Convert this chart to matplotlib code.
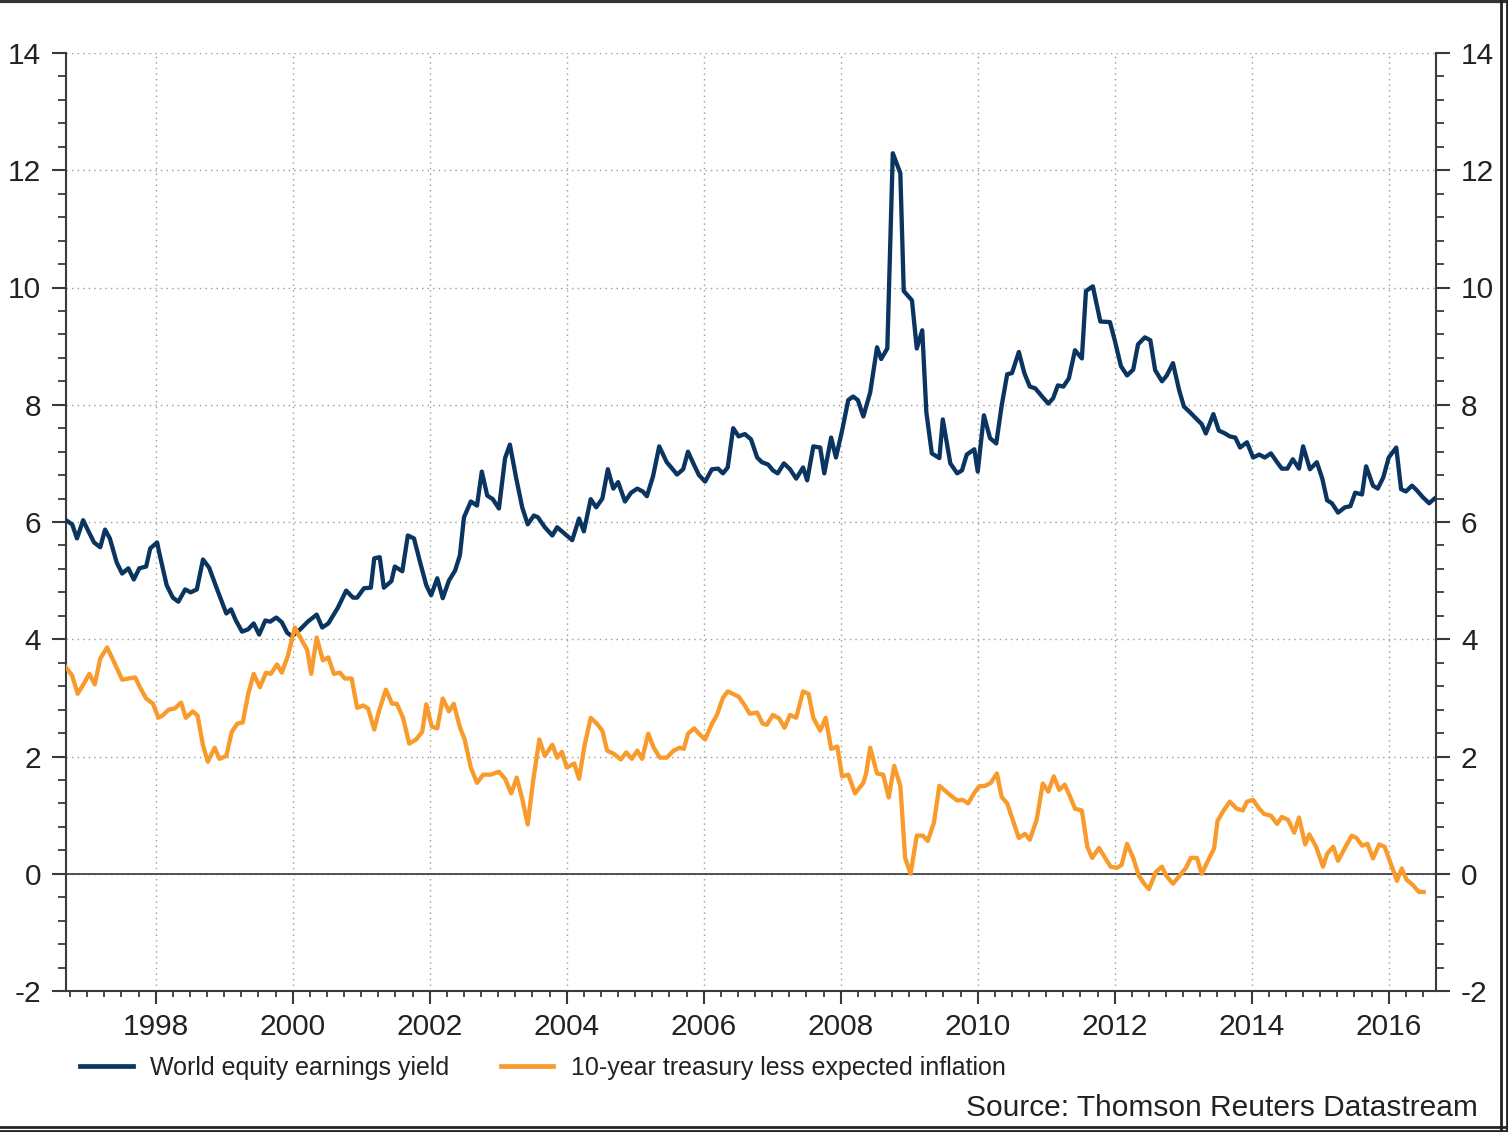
import matplotlib
matplotlib.use("Agg")
from matplotlib import pyplot as plt
from matplotlib.ticker import MultipleLocator
from matplotlib.lines import Line2D

plt.rcParams['font.family'] = ['Liberation Sans', 'DejaVu Sans']
plt.rcParams['axes.unicode_minus'] = False

# World equity earnings yield (decimal year, %)
eq_year = [1996.69, 1996.78, 1996.85, 1996.94, 1997.01, 1997.10, 1997.19, 1997.26, 1997.33, 1997.43,
           1997.51, 1997.60, 1997.68, 1997.76, 1997.86, 1997.92, 1998.02, 1998.06, 1998.16, 1998.25,
           1998.33, 1998.43, 1998.51, 1998.60, 1998.69, 1998.78, 1998.89, 1999.03, 1999.10, 1999.17,
           1999.26, 1999.35, 1999.43, 1999.51, 1999.60, 1999.67, 1999.76, 1999.84, 1999.92, 1999.99,
           2000.11, 2000.22, 2000.35, 2000.43, 2000.52, 2000.66, 2000.78, 2000.88, 2000.94, 2001.04,
           2001.14, 2001.19, 2001.27, 2001.33, 2001.44, 2001.49, 2001.60, 2001.68, 2001.77, 2001.86,
           2001.95, 2002.02, 2002.11, 2002.19, 2002.28, 2002.37, 2002.44, 2002.50, 2002.60, 2002.69,
           2002.76, 2002.84, 2002.92, 2003.01, 2003.10, 2003.17, 2003.26, 2003.35, 2003.43, 2003.52,
           2003.58, 2003.68, 2003.79, 2003.86, 2003.95, 2004.08, 2004.18, 2004.25, 2004.35, 2004.43,
           2004.52, 2004.60, 2004.68, 2004.75, 2004.85, 2004.94, 2005.03, 2005.11, 2005.17, 2005.26,
           2005.35, 2005.46, 2005.54, 2005.61, 2005.70, 2005.77, 2005.86, 2005.93, 2006.02, 2006.12,
           2006.21, 2006.28, 2006.35, 2006.43, 2006.51, 2006.60, 2006.69, 2006.78, 2006.85, 2006.94,
           2007.01, 2007.08, 2007.17, 2007.26, 2007.35, 2007.45, 2007.51, 2007.60, 2007.70, 2007.76,
           2007.86, 2007.93, 2008.02, 2008.11, 2008.18, 2008.25, 2008.33, 2008.43, 2008.53, 2008.59,
           2008.68, 2008.76, 2008.87, 2008.92, 2009.04, 2009.11, 2009.19, 2009.25, 2009.33, 2009.44,
           2009.49, 2009.60, 2009.70, 2009.77, 2009.84, 2009.95, 2010.00, 2010.09, 2010.18, 2010.27,
           2010.35, 2010.43, 2010.50, 2010.60, 2010.68, 2010.76, 2010.84, 2010.94, 2011.03, 2011.10,
           2011.17, 2011.25, 2011.33, 2011.42, 2011.52, 2011.58, 2011.68, 2011.79, 2011.93, 2012.00,
           2012.09, 2012.18, 2012.27, 2012.34, 2012.44, 2012.52, 2012.59, 2012.69, 2012.76, 2012.85,
           2012.94, 2013.01, 2013.10, 2013.20, 2013.27, 2013.33, 2013.44, 2013.52, 2013.61, 2013.68,
           2013.76, 2013.83, 2013.93, 2014.02, 2014.11, 2014.19, 2014.28, 2014.37, 2014.44, 2014.52,
           2014.60, 2014.69, 2014.75, 2014.85, 2014.95, 2015.03, 2015.10, 2015.17, 2015.26, 2015.36,
           2015.44, 2015.51, 2015.61, 2015.67, 2015.77, 2015.84, 2015.92, 2016.00, 2016.11, 2016.18,
           2016.25, 2016.34, 2016.41, 2016.50, 2016.59, 2016.67]
eq_val = [6.03, 5.96, 5.72, 6.03, 5.86, 5.65, 5.57, 5.87, 5.72, 5.31,
          5.12, 5.21, 5.02, 5.21, 5.24, 5.55, 5.65, 5.43, 4.92, 4.71,
          4.64, 4.85, 4.80, 4.85, 5.36, 5.22, 4.87, 4.44, 4.51, 4.32,
          4.13, 4.17, 4.27, 4.08, 4.32, 4.30, 4.37, 4.29, 4.11, 4.05,
          4.17, 4.30, 4.42, 4.20, 4.27, 4.54, 4.83, 4.71, 4.71, 4.87,
          4.88, 5.38, 5.40, 4.88, 4.99, 5.24, 5.16, 5.77, 5.72, 5.31,
          4.92, 4.75, 5.04, 4.70, 5.00, 5.17, 5.43, 6.08, 6.35, 6.28,
          6.86, 6.45, 6.39, 6.23, 7.09, 7.32, 6.76, 6.25, 5.96, 6.11,
          6.08, 5.91, 5.77, 5.91, 5.82, 5.69, 6.06, 5.84, 6.39, 6.25,
          6.40, 6.90, 6.57, 6.68, 6.35, 6.50, 6.57, 6.52, 6.44, 6.78,
          7.29, 7.02, 6.91, 6.81, 6.90, 7.20, 6.97, 6.80, 6.69, 6.90,
          6.91, 6.83, 6.93, 7.60, 7.46, 7.50, 7.41, 7.10, 7.02, 6.98,
          6.88, 6.83, 7.00, 6.90, 6.74, 6.93, 6.71, 7.29, 7.27, 6.83,
          7.44, 7.10, 7.56, 8.08, 8.14, 8.08, 7.80, 8.21, 8.98, 8.78,
          8.96, 12.29, 11.95, 9.94, 9.78, 8.96, 9.27, 7.87, 7.17, 7.09,
          7.75, 7.00, 6.83, 6.88, 7.15, 7.24, 6.86, 7.82, 7.43, 7.34,
          7.99, 8.52, 8.54, 8.90, 8.54, 8.31, 8.28, 8.14, 8.02, 8.11,
          8.33, 8.31, 8.45, 8.93, 8.79, 9.94, 10.02, 9.42, 9.41, 9.10,
          8.66, 8.50, 8.60, 9.03, 9.15, 9.10, 8.59, 8.40, 8.50, 8.71,
          8.25, 7.97, 7.87, 7.75, 7.67, 7.51, 7.84, 7.56, 7.51, 7.46,
          7.44, 7.27, 7.36, 7.10, 7.15, 7.10, 7.17, 7.02, 6.91, 6.91,
          7.07, 6.91, 7.29, 6.90, 7.02, 6.74, 6.37, 6.32, 6.16, 6.25,
          6.27, 6.50, 6.47, 6.95, 6.62, 6.57, 6.76, 7.10, 7.27, 6.56,
          6.52, 6.62, 6.54, 6.42, 6.32, 6.40]

# 10-year treasury less expected inflation (decimal year, %)
tr_year = [1996.69, 1996.78, 1996.86, 1996.95, 1997.03, 1997.11, 1997.19, 1997.29, 1997.38, 1997.51,
           1997.60, 1997.70, 1997.77, 1997.86, 1997.96, 1998.04, 1998.10, 1998.19, 1998.28, 1998.37,
           1998.44, 1998.54, 1998.61, 1998.69, 1998.76, 1998.86, 1998.93, 1999.03, 1999.11, 1999.19,
           1999.27, 1999.35, 1999.43, 1999.52, 1999.61, 1999.68, 1999.77, 1999.84, 1999.93, 2000.03,
           2000.11, 2000.21, 2000.27, 2000.35, 2000.44, 2000.52, 2000.60, 2000.69, 2000.76, 2000.86,
           2000.94, 2001.03, 2001.10, 2001.19, 2001.26, 2001.36, 2001.45, 2001.52, 2001.61, 2001.70,
           2001.80, 2001.89, 2001.95, 2002.03, 2002.11, 2002.19, 2002.28, 2002.35, 2002.44, 2002.51,
           2002.60, 2002.69, 2002.78, 2002.89, 2003.01, 2003.10, 2003.19, 2003.27, 2003.35, 2003.43,
           2003.51, 2003.60, 2003.68, 2003.79, 2003.86, 2003.93, 2004.00, 2004.11, 2004.18, 2004.26,
           2004.35, 2004.44, 2004.52, 2004.59, 2004.68, 2004.79, 2004.87, 2004.95, 2005.03, 2005.10,
           2005.19, 2005.27, 2005.36, 2005.46, 2005.56, 2005.65, 2005.71, 2005.77, 2005.86, 2005.93,
           2006.02, 2006.12, 2006.19, 2006.28, 2006.35, 2006.44, 2006.51, 2006.60, 2006.67, 2006.78,
           2006.86, 2006.92, 2007.01, 2007.10, 2007.18, 2007.26, 2007.35, 2007.45, 2007.53, 2007.60,
           2007.70, 2007.78, 2007.86, 2007.95, 2008.02, 2008.11, 2008.21, 2008.33, 2008.37, 2008.43,
           2008.53, 2008.62, 2008.70, 2008.78, 2008.87, 2008.94, 2009.02, 2009.11, 2009.20, 2009.27,
           2009.36, 2009.44, 2009.52, 2009.61, 2009.70, 2009.78, 2009.86, 2009.95, 2010.02, 2010.11,
           2010.19, 2010.28, 2010.35, 2010.43, 2010.51, 2010.60, 2010.69, 2010.76, 2010.86, 2010.95,
           2011.03, 2011.11, 2011.19, 2011.27, 2011.35, 2011.42, 2011.52, 2011.60, 2011.67, 2011.77,
           2011.86, 2011.94, 2012.03, 2012.10, 2012.18, 2012.27, 2012.35, 2012.43, 2012.50, 2012.60,
           2012.69, 2012.75, 2012.85, 2012.95, 2013.04, 2013.11, 2013.20, 2013.27, 2013.36, 2013.45,
           2013.50, 2013.59, 2013.68, 2013.78, 2013.87, 2013.93, 2014.02, 2014.11, 2014.18, 2014.28,
           2014.37, 2014.44, 2014.53, 2014.62, 2014.69, 2014.78, 2014.84, 2014.94, 2015.04, 2015.10,
           2015.19, 2015.26, 2015.36, 2015.46, 2015.53, 2015.61, 2015.69, 2015.77, 2015.86, 2015.94,
           2016.03, 2016.12, 2016.19, 2016.26, 2016.35, 2016.44, 2016.51]
tr_val = [3.52, 3.38, 3.07, 3.24, 3.41, 3.23, 3.67, 3.86, 3.64, 3.31,
          3.33, 3.35, 3.18, 2.99, 2.90, 2.66, 2.70, 2.80, 2.82, 2.92,
          2.66, 2.77, 2.70, 2.19, 1.91, 2.15, 1.96, 2.01, 2.42, 2.56,
          2.58, 3.07, 3.41, 3.18, 3.43, 3.41, 3.57, 3.43, 3.72, 4.20,
          4.03, 3.82, 3.41, 4.03, 3.64, 3.69, 3.41, 3.43, 3.33, 3.33,
          2.83, 2.87, 2.82, 2.46, 2.78, 3.14, 2.90, 2.90, 2.66, 2.22,
          2.29, 2.42, 2.89, 2.51, 2.48, 2.99, 2.77, 2.90, 2.50, 2.29,
          1.81, 1.55, 1.69, 1.69, 1.74, 1.62, 1.37, 1.64, 1.28, 0.84,
          1.59, 2.29, 2.01, 2.20, 1.98, 2.08, 1.81, 1.88, 1.62, 2.19,
          2.66, 2.56, 2.44, 2.10, 2.05, 1.95, 2.07, 1.96, 2.10, 1.96,
          2.39, 2.15, 1.98, 1.98, 2.10, 2.15, 2.13, 2.39, 2.48, 2.39,
          2.29, 2.56, 2.70, 3.00, 3.11, 3.06, 3.02, 2.87, 2.73, 2.75,
          2.56, 2.54, 2.71, 2.65, 2.49, 2.71, 2.66, 3.11, 3.07, 2.66,
          2.44, 2.66, 2.13, 2.17, 1.66, 1.69, 1.37, 1.55, 1.71, 2.15,
          1.71, 1.69, 1.30, 1.84, 1.50, 0.27, 0.00, 0.65, 0.65, 0.56,
          0.87, 1.50, 1.42, 1.33, 1.25, 1.26, 1.20, 1.38, 1.49, 1.50,
          1.55, 1.71, 1.31, 1.20, 0.92, 0.61, 0.68, 0.58, 0.92, 1.54,
          1.40, 1.66, 1.43, 1.52, 1.31, 1.11, 1.08, 0.46, 0.27, 0.44,
          0.27, 0.12, 0.10, 0.15, 0.51, 0.27, -0.03, -0.17, -0.26, 0.03,
          0.12, -0.03, -0.17, -0.03, 0.10, 0.27, 0.27, 0.00, 0.22, 0.43,
          0.90, 1.08, 1.23, 1.11, 1.08, 1.23, 1.26, 1.11, 1.02, 0.99,
          0.85, 0.97, 0.92, 0.70, 0.96, 0.50, 0.67, 0.46, 0.12, 0.34,
          0.46, 0.22, 0.44, 0.65, 0.61, 0.48, 0.51, 0.26, 0.50, 0.46,
          0.17, -0.12, 0.09, -0.10, -0.19, -0.31, -0.31]

year_ticks = list(range(1998, 2017, 2))

BLUE = "#0b3561"
ORANGE = "#f89b2c"
TXT = "#222222"

fig = plt.figure(figsize=(15.08, 11.32), dpi=100)
ax = fig.add_axes([66 / 1508, 1 - 991 / 1132, 1370 / 1508, 938 / 1132])

ax.plot(eq_year, eq_val, color=BLUE, lw=3.1, solid_joinstyle="round", zorder=3,
        label="World equity earnings yield")
ax.plot(tr_year, tr_val, color=ORANGE, lw=3.1, solid_joinstyle="round", zorder=3,
        label="10-year treasury less expected inflation")
ax.axhline(0, color="#444444", lw=1.3, zorder=2)

ax.set_xlim(1996.69, 2016.69)
ax.set_ylim(-2, 14)
ax.set_xticks(year_ticks)
ax.set_xticklabels([str(y) for y in year_ticks])
ax.xaxis.set_minor_locator(MultipleLocator(0.25))
ax.yaxis.set_major_locator(MultipleLocator(2))
ax.yaxis.set_minor_locator(MultipleLocator(0.4))

ax.grid(True, which="major", color="#9a9a9a", linestyle=(0, (1, 3)), lw=1.0)

for side in ["left", "right", "bottom"]:
    ax.spines[side].set_color("#3a3a3a")
    ax.spines[side].set_linewidth(1.5)
ax.spines["top"].set_visible(False)

ax.tick_params(axis="both", which="major", direction="out", color="#3a3a3a", width=1.5,
               labelsize=21.5, labelcolor=TXT)
ax.tick_params(axis="y", which="major", length=10, pad=8, right=True, labelright=True)
ax.tick_params(axis="y", which="minor", direction="out", length=6, width=1.3,
               color="#3a3a3a", right=True)
ax.tick_params(axis="x", which="major", length=9, pad=7)
ax.tick_params(axis="x", which="minor", direction="out", length=4, width=1.3, color="#3a3a3a")

leg = fig.legend(loc="center left", bbox_to_anchor=(80 / 1508, 1 - 1068 / 1132), ncol=2,
                 frameon=False, fontsize=18, handlelength=2.1, handletextpad=0.72,
                 columnspacing=2.05, borderpad=0, borderaxespad=0, labelcolor=TXT)
for h in leg.get_lines():
    h.set_linewidth(3.4)

fig.text(1478 / 1508, 1 - 1108 / 1132, "Source: Thomson Reuters Datastream",
         ha="right", va="center", fontsize=21.5, color=TXT)

# outer frame of the screenshot
fig.add_artist(Line2D([0, 1], [0.999, 0.999], transform=fig.transFigure, color="#333333", lw=3))
fig.add_artist(Line2D([0.9955, 0.9955], [0, 1], transform=fig.transFigure, color="#222222", lw=2))
fig.add_artist(Line2D([0.9995, 0.9995], [0, 1], transform=fig.transFigure, color="#222222", lw=2))
fig.add_artist(Line2D([0, 1], [0.0045, 0.0045], transform=fig.transFigure, color="#222222", lw=2))
fig.add_artist(Line2D([0, 1], [0.0005, 0.0005], transform=fig.transFigure, color="#222222", lw=2))

fig.savefig("out.png", dpi=100)
